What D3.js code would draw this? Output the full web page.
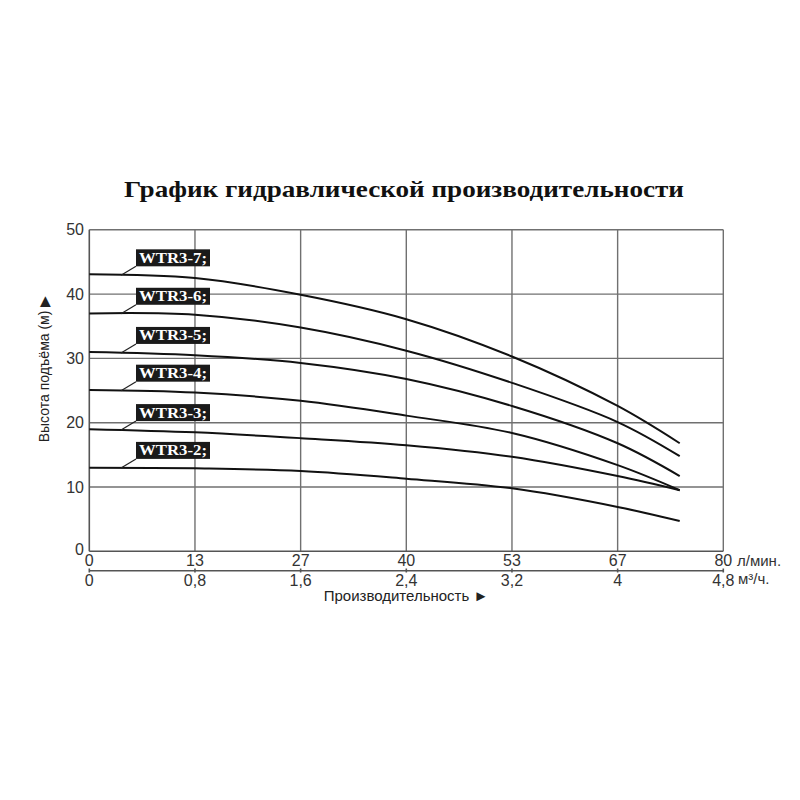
<!DOCTYPE html>
<html><head><meta charset="utf-8">
<script src="https://cdn.jsdelivr.net/npm/d3@7"></script>
<style>body{margin:0;background:#fff}</style>
</head><body>
<svg id="c" width="800" height="800"></svg>
<script>
const title = "График гидравлической производительности";
const flowM3h = [0, 0.8, 1.6, 2.4, 3.2, 4.0, 4.47];
const models = ["WTR3-7;", "WTR3-6;", "WTR3-5;", "WTR3-4;", "WTR3-3;", "WTR3-2;"];
const head7 = [43.1, 42.5, 39.9, 36.1, 30.3, 22.6, 16.8];
const head6 = [37.0, 36.8, 34.8, 31.2, 26.2, 20.1, 14.8];
const head5 = [31.0, 30.5, 29.3, 26.8, 22.6, 16.8, 11.7];
const head4 = [25.1, 24.7, 23.4, 21.1, 18.4, 13.4, 9.5];
const head3 = [19.0, 18.5, 17.6, 16.5, 14.7, 11.7, 9.5];
const head2 = [13.0, 12.9, 12.5, 11.3, 9.8, 6.9, 4.7];
const heads = [head7, head6, head5, head4, head3, head2];
const xTicksM3h = [0, 0.8, 1.6, 2.4, 3.2, 4, 4.8];
const xLabelsM3h = ["0", "0,8", "1,6", "2,4", "3,2", "4", "4,8"];
const xLabelsLmin = ["0", "13", "27", "40", "53", "67", "80"];
const yTicks = [0, 10, 20, 30, 40, 50];
const labelAnchorFlow = 0.24;

const svg = d3.select("#c");
const L = 89.3, R = 723.3, T = 229.8, B = 551.3;
const x = d3.scaleLinear().domain([0, 4.8]).range([L, R]);
const y = d3.scaleLinear().domain([0, 50]).range([B, T]);
const sans = "'Liberation Sans', Arial, sans-serif";
const serif = "'Liberation Serif', 'Times New Roman', serif";

// title
svg.append("text").attr("x", 404).attr("y", 197).attr("text-anchor", "middle")
  .attr("font-family", serif).attr("font-weight", "bold").attr("font-size", 23)
  .attr("textLength", 560).attr("lengthAdjust", "spacingAndGlyphs")
  .attr("fill", "#111").text(title);

// grid
const g = svg.append("g");
g.selectAll("line.v").data(xTicksM3h.slice(1)).join("line")
  .attr("x1", d => x(d)).attr("x2", d => x(d)).attr("y1", T).attr("y2", B)
  .attr("stroke", "#707070").attr("stroke-width", 1.4);
g.selectAll("line.h").data(yTicks.slice(1)).join("line")
  .attr("x1", L).attr("x2", R).attr("y1", d => y(d)).attr("y2", d => y(d))
  .attr("stroke", "#707070").attr("stroke-width", 1.4);
g.append("line").attr("x1", L).attr("x2", L).attr("y1", T).attr("y2", B).attr("stroke", "#555").attr("stroke-width", 1.6);
g.append("line").attr("x1", L).attr("x2", R).attr("y1", B).attr("y2", B).attr("stroke", "#555").attr("stroke-width", 1.6);

// y tick labels
svg.selectAll("text.yt").data(yTicks).join("text")
  .attr("x", 84).attr("y", d => y(d) + 5.5 + (d === 0 ? -2 : 0)).attr("text-anchor", "end")
  .attr("font-family", sans).attr("font-size", 16).attr("fill", "#333").text(d => d);

// top x labels (l/min)
svg.selectAll("text.xl").data(xTicksM3h).join("text")
  .attr("x", d => x(d)).attr("y", 566).attr("text-anchor", "middle")
  .attr("font-family", sans).attr("font-size", 16).attr("fill", "#333")
  .text((d, i) => xLabelsLmin[i]);
svg.append("text").attr("x", 737).attr("y", 566).attr("font-family", sans)
  .attr("font-size", 15).attr("fill", "#333").text("л/мин.");

// second axis
svg.append("line").attr("x1", L).attr("x2", R).attr("y1", 570.7).attr("y2", 570.7)
  .attr("stroke", "#555").attr("stroke-width", 1.6);
svg.selectAll("line.xt2").data(xTicksM3h).join("line")
  .attr("x1", d => x(d)).attr("x2", d => x(d)).attr("y1", 568.5).attr("y2", 572.5)
  .attr("stroke", "#555").attr("stroke-width", 1.6);
svg.selectAll("text.xm").data(xTicksM3h).join("text")
  .attr("x", d => x(d)).attr("y", 585.5).attr("text-anchor", "middle")
  .attr("font-family", sans).attr("font-size", 16).attr("fill", "#333")
  .text((d, i) => xLabelsM3h[i]);
svg.append("text").attr("x", 738).attr("y", 584).attr("font-family", sans)
  .attr("font-size", 15).attr("fill", "#333").text("м³/ч.");

// axis titles
svg.append("text").attr("x", 406).attr("y", 601).attr("text-anchor", "middle")
  .attr("font-family", sans).attr("font-size", 15).attr("fill", "#222")
  .text("Производительность ►");
svg.append("text").attr("transform", "translate(49,369) rotate(-90)").attr("text-anchor", "middle")
  .attr("font-family", sans).attr("font-size", 14).attr("fill", "#222")
  .text("Высота подъёма (м) ▶");

// curves
const line = d3.line().x((d, i) => x(flowM3h[i])).y(d => y(d)).curve(d3.curveCatmullRom.alpha(0.5));
svg.selectAll("path.c").data(heads).join("path")
  .attr("d", d => line(d)).attr("fill", "none").attr("stroke", "#111").attr("stroke-width", 2);

// labels
heads.forEach((h, k) => {
  const t = labelAnchorFlow / flowM3h[1];
  const hv = h[0] + (h[1] - h[0]) * t;
  const ax = x(labelAnchorFlow), ay = y(hv);
  const bx = ax + 15, by = ay - 9;
  svg.append("line").attr("x1", ax).attr("y1", ay).attr("x2", bx).attr("y2", by)
    .attr("stroke", "#222").attr("stroke-width", 1.2);
  svg.append("rect").attr("x", bx).attr("y", by - 17).attr("width", 74).attr("height", 17)
    .attr("fill", "#1a1a1a");
  svg.append("text").attr("x", bx + 3).attr("y", by - 3.5)
    .attr("font-family", serif).attr("font-weight", "bold").attr("font-size", 14)
    .attr("textLength", 68).attr("lengthAdjust", "spacingAndGlyphs")
    .attr("fill", "#fff").text(models[k]);
});
</script>
</body></html>
